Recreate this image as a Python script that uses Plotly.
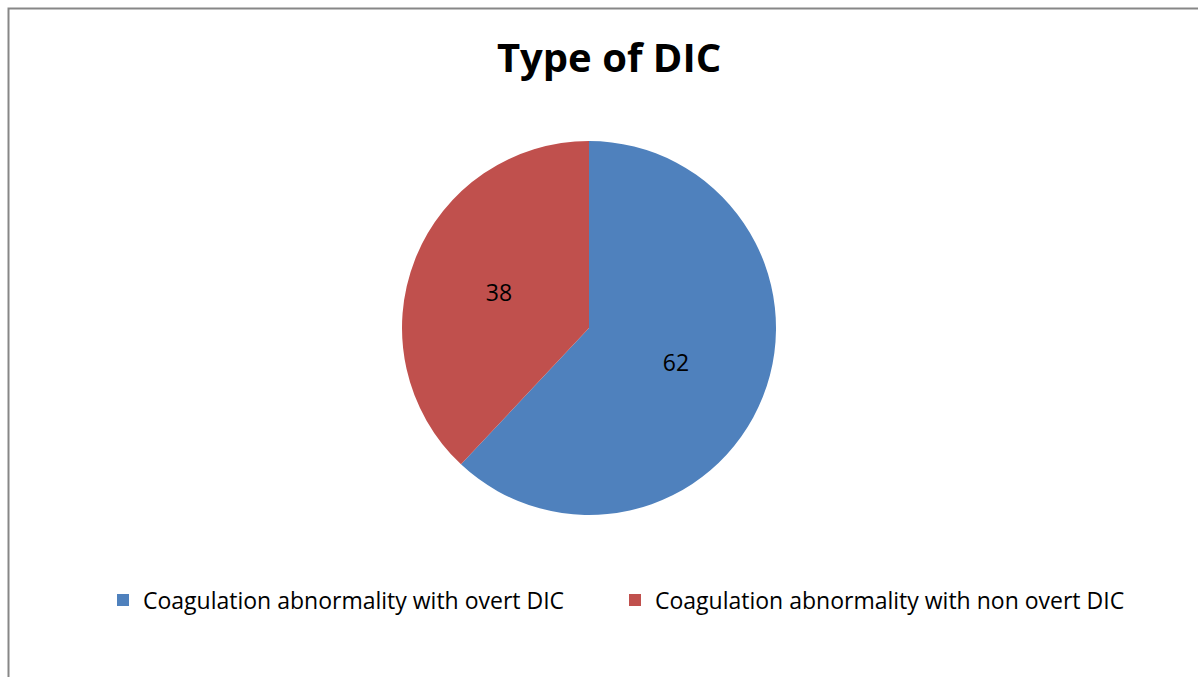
import plotly.graph_objects as go

labels = ["Coagulation abnormality with overt DIC", "Coagulation abnormality with non overt DIC"]
values = [62, 38]
colors = ["#4F81BD", "#C0504D"]
title_text = "Type of DIC"

W, H = 1198, 677
cx, cy, r = 589, 328, 187

fig = go.Figure(go.Pie(
    labels=labels,
    values=values,
    sort=False,
    direction="clockwise",
    rotation=0,
    marker=dict(colors=colors, line=dict(width=0)),
    textinfo="value",
    textposition="inside",
    insidetextorientation="horizontal",
    textfont=dict(family="Open Sans", size=23, color="black"),
    domain=dict(x=[(cx - r) / W, (cx + r) / W], y=[(H - cy - r) / H, (H - cy + r) / H]),
    hoverinfo="label+value",
))

fig.update_layout(
    width=W, height=H,
    margin=dict(l=0, r=0, t=0, b=0),
    paper_bgcolor="white",
    plot_bgcolor="white",
    title=dict(text="<b>" + title_text + "</b>", x=609 / W, xanchor="center",
               y=1 - 58 / H, yanchor="middle",
               font=dict(family="Open Sans", size=40, color="black")),
    showlegend=True,
    legend=dict(orientation="h", x=103 / W, xanchor="left", y=1 - 600 / H, yanchor="middle",
                font=dict(family="Open Sans", size=23, color="black"),
                entrywidth=467, itemwidth=30),
    shapes=[dict(type="rect", xref="paper", yref="paper",
                 x0=8.5 / W, x1=1.05, y0=-0.05, y1=1 - 8.5 / H,
                 line=dict(color="#878787", width=2), fillcolor="rgba(0,0,0,0)", layer="below")],
)

fig.write_html("out.html")
